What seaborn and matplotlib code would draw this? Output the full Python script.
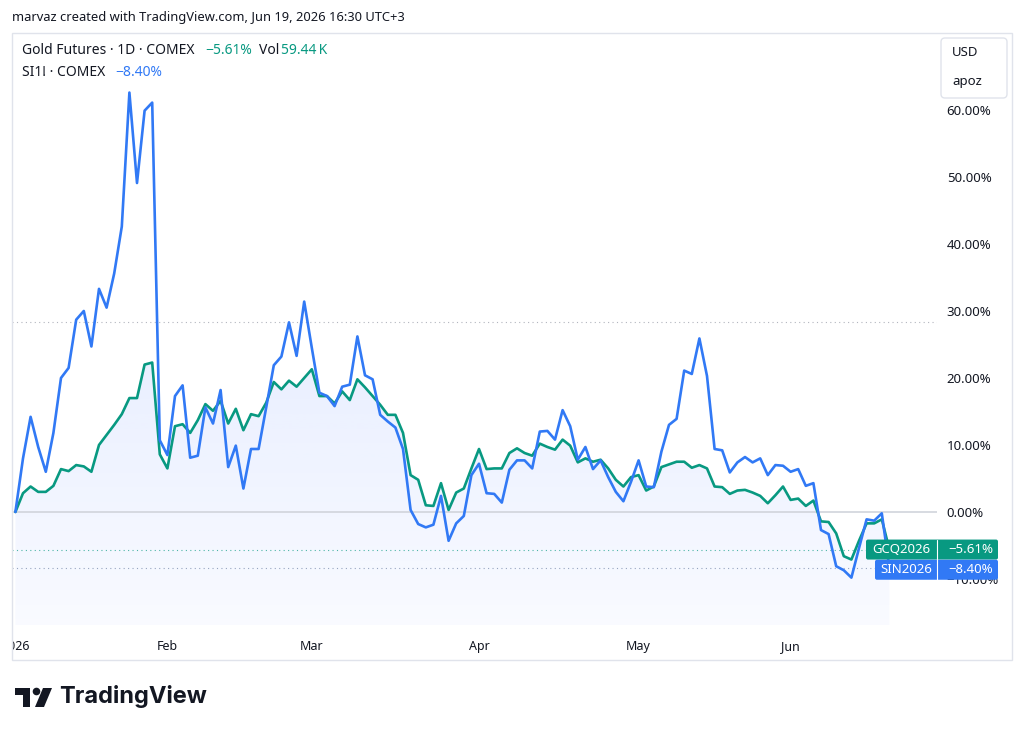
import numpy as np
import pandas as pd
import seaborn as sns
import matplotlib.pyplot as plt
from matplotlib.patches import Rectangle, FancyBboxPatch, Polygon, Circle
from matplotlib.transforms import Affine2D

# exchange holidays (no daily bar)
holidays = ["2026-01-19", "2026-02-16", "2026-04-03", "2026-05-25", "2026-06-19"]

# % change vs first bar
gold = [0, 2.8, 3.8, 3.0, 3.0, 3.9, 6.4, 6.1, 7.0, 6.8,
        6.0, 10.0, 11.5, 13.0, 14.6, 17.0, 17.0, 22.0, 22.3, 8.6,
        6.5, 12.8, 13.1, 11.8, 13.7, 16.1, 15.1, 16.6, 13.2, 15.4,
        12.2, 14.6, 14.3, 16.3, 19.4, 18.3, 19.6, 18.7, 20.0, 21.3,
        17.3, 17.3, 16.2, 18.0, 16.7, 19.8, 18.6, 17.3, 16.0, 14.5,
        14.5, 11.8, 5.5, 4.8, 1.0, 0.9, 4.3, 0.3, 2.9, 3.5,
        6.5, 9.4, 6.4, 6.5, 6.5, 8.8, 9.5, 8.8, 8.4, 10.2,
        9.7, 9.3, 10.8, 9.9, 7.4, 8.0, 7.5, 7.8, 6.5, 4.8,
        3.8, 5.2, 5.5, 3.2, 3.8, 6.7, 7.1, 7.5, 7.5, 6.6,
        7.0, 6.5, 3.8, 3.7, 2.7, 3.2, 3.3, 2.9, 2.4, 1.3,
        2.5, 3.8, 1.8, 2.0, 0.9, 1.7, -1.4, -1.5, -3.2, -6.6,
        -7.1, -4.3, -1.7, -1.7, -1.1, -5.61]

silver = [0, 8.0, 14.2, 9.7, 6.0, 11.8, 20.0, 21.5, 28.7, 30.0,
          24.7, 33.3, 30.5, 35.6, 42.6, 62.6, 49.1, 59.9, 61.1, 10.7,
          8.5, 17.3, 18.9, 8.1, 8.4, 15.6, 13.2, 18.2, 6.7, 9.9,
          3.5, 9.4, 9.4, 15.6, 21.9, 23.2, 28.3, 23.3, 31.4, 24.5,
          17.8, 17.3, 15.8, 18.7, 19.0, 26.2, 20.4, 19.8, 14.5, 13.5,
          12.6, 9.4, 0.3, -1.8, -2.3, -1.9, 2.4, -4.3, -1.7, -0.6,
          5.5, 7.2, 2.8, 2.7, 1.4, 6.3, 7.7, 7.7, 6.5, 12.0,
          12.1, 10.8, 15.2, 12.8, 7.8, 9.7, 6.4, 7.7, 5.2, 3.0,
          1.6, 4.5, 7.7, 3.8, 3.7, 9.0, 13.0, 13.9, 21.1, 20.6,
          25.9, 20.3, 9.4, 9.2, 5.9, 7.4, 8.2, 7.4, 8.0, 5.5,
          7.0, 6.9, 6.0, 6.4, 3.9, 4.3, -2.7, -3.3, -8.1, -8.7,
          -9.8, -5.4, -1.1, -1.3, -0.2, -8.40]

ref_level = 28.4   # dotted reference line
y_ticks = [-10, 0, 10, 20, 30, 40, 50, 60]

GREEN = "#089981"
BLUE = "#3179F5"
TXT = "#131722"
BORDER = "#E0E3EB"

dates = pd.bdate_range("2026-01-02", "2026-06-19")
dates = dates[~dates.isin(pd.to_datetime(holidays))]
df = pd.DataFrame({"date": dates, "gold": gold, "silver": silver})
df["i"] = np.arange(len(df))

first = df.groupby(df["date"].dt.month)["i"].min()
tick_pos = first.values
tick_lab = ["2026" if m == 1 else pd.Timestamp(2026, m, 1).strftime("%b") for m in first.index]

sns.set_style("white")
plt.rcParams["font.family"] = ["Noto Sans", "DejaVu Sans"]

fig = plt.figure(figsize=(10.24, 7.34), dpi=100)
W, H = 1024, 734
pix = Affine2D().scale(1 / W, -1 / H).translate(0, 1) + fig.transFigure

L, R, T, B = 12, 937, 34, 625
ax = fig.add_axes([L / W, 1 - B / H, (R - L) / W, (B - T) / H])
ymin, ymax = -16.87, 71.34
x0, step = 15.4, 7.6

# gradient area under gold
verts = [(0, ymin)] + list(zip(df["i"], df["gold"])) + [(df["i"].iloc[-1], ymin)]
poly = Polygon(verts, closed=True, facecolor="none", edgecolor="none")
ax.add_patch(poly)
grad = np.zeros((256, 1, 4))
grad[:, 0, :3] = np.array([41, 98, 255]) / 255
grad[:, 0, 3] = np.linspace(0.10, 0.03, 256)
im = ax.imshow(grad, extent=[0, df["i"].iloc[-1] + 0.5, ymin, max(gold)], aspect="auto", zorder=1)
im.set_clip_path(poly)

ax.axhline(0, color="#D1D4DC", lw=1.2, zorder=1.5)
ax.axhline(ref_level, color="#B2B5BE", lw=0.8, ls=(0, (1, 3)), zorder=1.5)
ax.axhline(gold[-1], color=GREEN, lw=0.8, ls=(0, (1, 3)), alpha=0.7, zorder=1.5)
ax.axhline(silver[-1], color="#7F8FB0", lw=0.8, ls=(0, (1, 3)), alpha=0.8, zorder=1.5)

sns.lineplot(data=df, x="i", y="gold", color=GREEN, lw=1.9, ax=ax, zorder=3)
sns.lineplot(data=df, x="i", y="silver", color=BLUE, lw=1.9, ax=ax, zorder=4)

ax.set_xlim((L - x0) / step, (R - x0) / step)
ax.set_ylim(ymin, ymax)
ax.set_xlabel("")
ax.set_ylabel("")
for s in ax.spines.values():
    s.set_visible(False)
ax.set_xticks(tick_pos)
ax.set_xticklabels(tick_lab)
ax.yaxis.tick_right()
ax.set_yticks(y_ticks)
ax.set_yticklabels([f"{v:.2f}%".replace("-", "\u2212") for v in y_ticks])
ax.tick_params(axis="x", length=0, pad=11, labelsize=9, labelcolor=TXT)
ax.tick_params(axis="y", length=0, pad=7, labelsize=9.5, labelcolor=TXT)
ax.grid(False)

# hide the part of the first time label that falls left of the pane
fig.patches.append(Rectangle((0, 630), L, 28, transform=pix, facecolor="white",
                             edgecolor="none", zorder=2))
# outer frame
fig.patches.append(Rectangle((L, 33), 1012 - L, 660 - 33, transform=pix, fill=False,
                             edgecolor=BORDER, lw=1, zorder=2.5))

# header
fig.text(12, 18, "marvaz created with TradingView.com, Jun 19, 2026 16:30 UTC+3", transform=pix,
         fontsize=9.3, color=TXT, va="center")
fig.text(22, 51, "Gold Futures \u00b7 1D \u00b7 COMEX", transform=pix, fontsize=10, color=TXT, va="center")
fig.text(205, 51, "\u22125.61%", transform=pix, fontsize=10, color=GREEN, va="center")
fig.text(259, 51, "Vol", transform=pix, fontsize=10, color=TXT, va="center")
fig.text(281, 51, "59.44\u2009K", transform=pix, fontsize=10, color=GREEN, va="center")
fig.text(22, 72, "SI1! \u00b7 COMEX", transform=pix, fontsize=10, color=TXT, va="center")
fig.text(115, 72, "\u22128.40%", transform=pix, fontsize=10, color=BLUE, va="center")

# currency / unit box
fig.patches.append(FancyBboxPatch((941, 38), 66, 60, boxstyle="round,pad=0,rounding_size=4",
                                  transform=pix, facecolor="white", edgecolor=BORDER, lw=1))
fig.text(952, 52, "USD", transform=pix, fontsize=9.5, color=TXT, va="center")
fig.text(952, 82, "apoz", transform=pix, fontsize=9.5, color=TXT, va="center")

# last value labels
def ypix(v):
    return H - ax.transData.transform((0, v))[1]

labels = [("GCQ2026", gold[-1], GREEN, 866, ypix(gold[-1])),
          ("SIN2026", silver[-1], BLUE, 875, ypix(silver[-1]) + 1.5)]
for name, v, c, xl, yc in labels:
    fig.patches.append(FancyBboxPatch((xl, yc - 10), 998 - xl, 20,
                                      boxstyle="round,pad=0,rounding_size=2",
                                      transform=pix, facecolor=c, edgecolor="none", zorder=5))
    fig.lines.append(plt.Line2D([937, 937], [yc - 10, yc + 10], transform=pix,
                                color="white", lw=0.8, zorder=6))
    fig.text((xl + 937) / 2, yc, name, transform=pix, fontsize=9.5, color="white",
             ha="center", va="center", zorder=7)
    fig.text(993, yc, f"{v:.2f}%".replace("-", "\u2212"), transform=pix, fontsize=9.5,
             color="white", ha="right", va="center", zorder=7)

# TradingView logo
logo = "#131722"
fig.patches.append(Polygon([(15, 688), (30, 688), (30, 707), (23, 707), (23, 695), (15, 695)],
                           closed=True, transform=pix, facecolor=logo, edgecolor="none"))
fig.patches.append(Circle((36.5, 691.5), 3.8, transform=pix, facecolor=logo, edgecolor="none"))
fig.patches.append(Polygon([(43, 688), (52, 688), (44, 707), (35, 707)],
                           closed=True, transform=pix, facecolor=logo, edgecolor="none"))
fig.text(59, 697, "TradingView", transform=pix, fontsize=17, fontweight="bold",
         family="Inter", color=logo, va="center")

fig.savefig("out.png", dpi=100, facecolor="white")
